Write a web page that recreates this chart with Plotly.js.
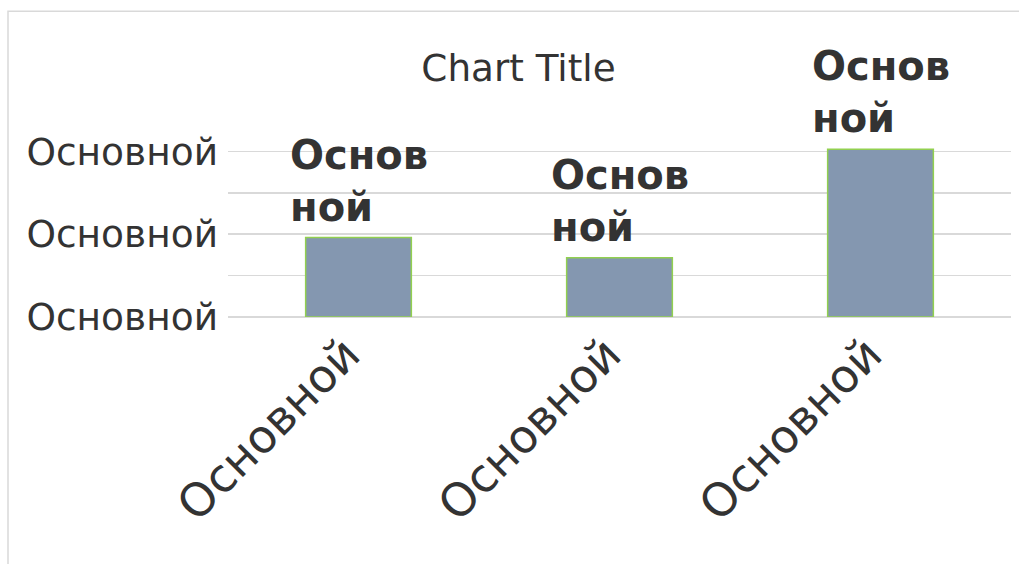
<!DOCTYPE html>
<html>
<head>
<meta charset="utf-8">
<script src="https://cdn.plot.ly/plotly-3.0.1.min.js"></script>
<style>html,body{margin:0;padding:0;background:#fff;}#chart{width:1019px;height:564px;}</style>
</head>
<body>
<div id="chart"></div>
<script>
const categories = ["Основной", "Основной", "Основной"];
const values = [1.92, 1.43, 4.05];
const dataLabels = ["Основ<br>ной", "Основ<br>ной", "Основ<br>ной"];
const yTickVals = [0, 1, 2, 3, 4, 5];
const yTickText = ["Основной", "", "Основной", "", "Основной", ""];
const chartTitle = "Chart Title";

const xIdx = categories.map((_, i) => i);
const FONT = "DejaVu Sans, sans-serif";

const trace = {
  type: "bar",
  x: xIdx,
  y: values,
  width: 0.405,
  marker: { color: "#8497B0", line: { color: "#92D050", width: 1.5 } },
  hoverinfo: "none"
};

const annotations = xIdx.map((xi, i) => ({
  x: xi, y: values[i], xref: "x", yref: "y",
  text: dataLabels[i], showarrow: false,
  xanchor: "center", yanchor: "bottom", align: "left",
  yshift: 6,
  font: { family: FONT, size: 40, color: "#333333", weight: "bold" }
}));

const layout = {
  width: 1019, height: 564,
  margin: { l: 228, r: 8, t: 110, b: 246.5, pad: 0 },
  paper_bgcolor: "#ffffff", plot_bgcolor: "#ffffff",
  showlegend: false,
  title: {
    text: chartTitle, xref: "container", yref: "container",
    x: 518.5 / 1019, y: 1 - 68 / 564, xanchor: "center", yanchor: "middle",
    font: { family: FONT, size: 37.3, color: "#333333" }
  },
  xaxis: {
    range: [-0.5, 2.5], tickvals: xIdx, ticktext: categories,
    tickangle: -45, showgrid: false, zeroline: false, showline: false,
    ticks: "", ticklabelshift: -12, ticklabelstandoff: 0,
    tickfont: { family: FONT, size: 46, color: "#333333" }
  },
  yaxis: {
    range: [0, 5], tickvals: yTickVals, ticktext: yTickText,
    showgrid: true, gridcolor: "#D9D9D9", gridwidth: 1.5,
    zeroline: true, zerolinecolor: "#D9D9D9", zerolinewidth: 2.5,
    showline: false, ticks: "", ticklabelstandoff: 9,
    tickfont: { family: FONT, size: 37.5, color: "#333333" }
  },
  annotations: annotations,
  shapes: [{
    type: "rect", xref: "paper", yref: "paper",
    x0: (8 - 228) / 783, x1: 1.2, y0: -1.5, y1: (317.5 - 11) / 207.5,
    line: { color: "#D9D9D9", width: 1.5 }, fillcolor: "rgba(0,0,0,0)", layer: "below"
  }]
};

Plotly.newPlot("chart", [trace], layout, { displayModeBar: false, staticPlot: true });
</script>
</body>
</html>
